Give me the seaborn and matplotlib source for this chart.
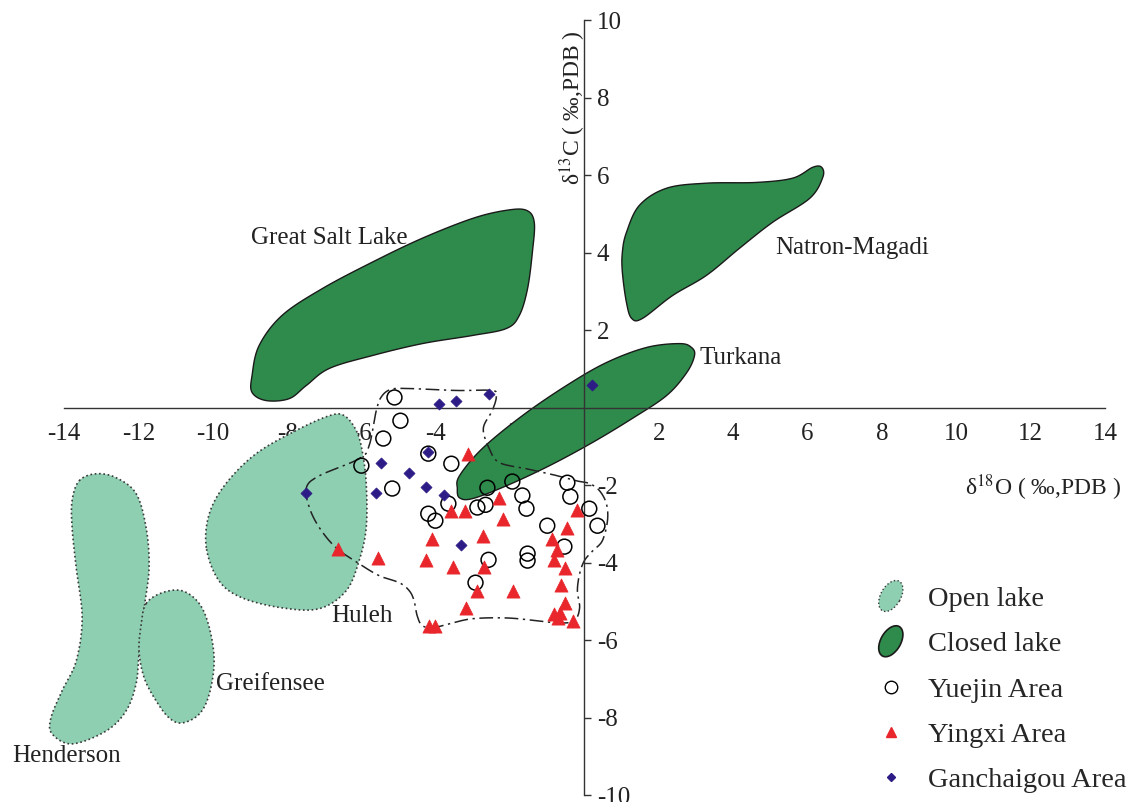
import numpy as np
import pandas as pd
import seaborn as sns
import matplotlib
matplotlib.use('Agg')
import matplotlib.pyplot as plt
from matplotlib.patches import Patch, Ellipse
from matplotlib.lines import Line2D
from matplotlib.legend_handler import HandlerPatch

# Sample values, d18O / d13C (permil, PDB).
yuejin_d18o = [-5.11, -4.95, -5.41, -6.00, -5.17, -4.20, -3.58, -3.66, -4.20, -4.01,
               -2.61, -2.88, -2.66, -1.94, -1.67, -1.56, -0.46, -0.38, 0.13, 0.35,
               -1.00, -0.54, -1.53, -1.53, -2.58, -2.93]
yuejin_d13c = [0.26, -0.34, -0.80, -1.50, -2.09, -1.19, -1.45, -2.48, -2.74, -2.92,
               -2.07, -2.58, -2.51, -1.91, -2.27, -2.61, -1.94, -2.30, -2.61, -3.05,
               -3.05, -3.59, -3.77, -3.95, -3.93, -4.52]

yingxi_d18o = [-3.12, -2.31, -3.58, -3.20, -2.18, -4.09, -2.72, -4.25, -3.53, -2.69,
               -2.88, -1.91, -3.18, -4.17, -4.01, -0.19, -0.48, -0.86, -0.75, -0.83,
               -0.51, -0.62, -0.51, -0.81, -0.67, -0.70, -0.32, -6.62, -5.55]
yingxi_d13c = [-1.19, -2.33, -2.66, -2.66, -2.87, -3.39, -3.31, -3.93, -4.11, -4.11,
               -4.73, -4.73, -5.17, -5.63, -5.63, -2.64, -3.10, -3.39, -3.67, -3.93,
               -4.13, -4.57, -5.04, -5.32, -5.30, -5.43, -5.50, -3.64, -3.88]

ganchaigou_d18o = [-3.90, -3.45, -2.58, 0.19, -4.20, -5.46, -4.71, -4.25, -3.77, -5.60,
                   -7.48, -3.31]
ganchaigou_d13c = [0.10, 0.18, 0.36, 0.57, -1.14, -1.42, -1.68, -2.04, -2.27, -2.20,
                   -2.20, -3.54]

# Lake fields (outline vertices).
great_salt_lake_x = [-8.94, -8.75, -8.13, -7.05, -5.71, -4.36, -3.01, -2.10, -1.56, -1.35,
                     -1.40, -1.53, -1.75, -2.10, -3.01, -4.36, -5.71, -6.86, -7.48, -7.94,
                     -8.56, -8.94]
great_salt_lake_y = [0.83, 1.60, 2.38, 3.07, 3.75, 4.37, 4.88, 5.09, 5.09, 4.78,
                     4.01, 3.07, 2.38, 2.04, 1.86, 1.65, 1.34, 1.01, 0.57, 0.23,
                     0.18, 0.39]
natron_x = [1.13, 1.48, 2.21, 3.28, 4.63, 5.60, 6.14, 6.38, 6.41, 6.06,
            5.06, 4.17, 3.28, 2.37, 1.56, 1.27, 1.13, 1.02, 1.02]
natron_y = [4.52, 5.22, 5.66, 5.79, 5.81, 5.92, 6.20, 6.20, 5.94, 5.40,
            4.78, 4.11, 3.41, 2.89, 2.30, 2.30, 2.71, 3.49, 4.01]
turkana_x = [-3.42, -3.36, -2.75, -1.67, -0.48, 0.59, 1.67, 2.56, 2.88, 2.96,
             2.75, 2.21, 1.29, 0.22, -0.94, -2.10, -3.01, -3.36]
turkana_y = [-2.09, -1.76, -1.06, -0.21, 0.57, 1.16, 1.55, 1.65, 1.55, 1.34,
             0.90, 0.31, -0.28, -0.90, -1.50, -2.02, -2.35, -2.33]
huleh_x = [-10.17, -10.09, -9.64, -8.83, -7.75, -6.86, -6.46, -6.14, -5.98, -5.87,
           -5.87, -6.06, -6.41, -7.13, -8.13, -9.21, -9.83]
huleh_y = [-3.62, -2.74, -1.96, -1.19, -0.59, -0.21, -0.21, -0.59, -1.11, -1.96,
           -3.10, -3.95, -4.73, -5.19, -5.17, -4.91, -4.47]
henderson_x = [-13.59, -13.14, -12.60, -12.06, -11.79, -11.71, -11.84, -11.98, -12.06, -12.33,
               -12.87, -13.78, -14.32, -14.35, -14.05, -13.67, -13.51, -13.67, -13.78, -13.78]
henderson_y = [-1.89, -1.71, -1.81, -2.22, -3.10, -4.13, -5.17, -6.36, -7.13, -7.83,
               -8.35, -8.68, -8.42, -8.01, -7.31, -6.54, -5.43, -4.13, -3.10, -2.40]
greifensee_x = [-11.79, -11.36, -10.82, -10.36, -10.09, -9.96, -10.09, -10.36, -10.82, -11.17,
                -11.52, -11.84, -11.98, -11.92]
greifensee_y = [-5.06, -4.78, -4.73, -5.06, -5.68, -6.54, -7.39, -7.91, -8.14, -8.01,
                -7.57, -6.98, -6.28, -5.58]

# Envelope round the study-area samples.
field_x = [-7.48, -7.13, -6.06, -5.79, -5.60, -5.46, -5.20, -4.71, -3.45, -2.48,
           -2.37, -2.48, -2.72, -2.56, -2.29, -1.56, -0.94, -0.22, 0.13, 0.40,
           0.59, 0.62, 0.48, 0.22, 0.00, -0.13, -0.19, -0.13, -0.27, -0.67,
           -1.29, -2.10, -3.01, -3.63, -4.04, -4.36, -4.50, -4.58, -4.71, -4.98,
           -5.52, -6.06, -6.68, -7.13, -7.40]
field_y = [-2.07, -1.76, -1.32, -0.98, -0.08, 0.28, 0.47, 0.49, 0.44, 0.44,
           0.28, -0.08, -0.54, -1.06, -1.42, -1.58, -1.71, -1.89, -1.96, -2.14,
           -2.48, -2.92, -3.44, -3.70, -3.95, -4.29, -4.73, -5.17, -5.50, -5.56,
           -5.50, -5.43, -5.45, -5.58, -5.68, -5.63, -5.37, -4.99, -4.73, -4.52,
           -4.34, -4.03, -3.62, -3.10, -2.58]

OPEN_COLOR = '#8ecfb2'
CLOSED_COLOR = '#2e8b4b'
RED = '#e8262b'
NAVY = '#2d1b86'


def smooth_closed(xs, ys, n=24):
    pts = np.column_stack([xs, ys])
    ext = np.vstack([pts[-1], pts, pts[0], pts[1]])
    t = np.linspace(0, 1, n, endpoint=False)[:, None]
    segs = []
    for i in range(1, len(pts) + 1):
        p0, p1, p2, p3 = ext[i - 1], ext[i], ext[i + 1], ext[i + 2]
        segs.append(0.5 * (2 * p1 + (-p0 + p2) * t + (2 * p0 - 5 * p1 + 4 * p2 - p3) * t ** 2
                           + (-p0 + 3 * p1 - 3 * p2 + p3) * t ** 3))
    out = np.vstack(segs)
    return np.vstack([out, out[:1]])


class HandlerEllipse(HandlerPatch):
    def create_artists(self, legend, orig_handle, xdescent, ydescent, width, height,
                       fontsize, trans):
        center = (0.5 * width - xdescent, 0.5 * height - ydescent)
        p = Ellipse(xy=center, width=height * 1.7, height=height * 1.0, angle=60)
        self.update_prop(p, orig_handle, legend)
        p.set_transform(trans)
        return [p]


samples = pd.concat([
    pd.DataFrame({'d18O': yuejin_d18o, 'd13C': yuejin_d13c, 'area': 'Yuejin Area'}),
    pd.DataFrame({'d18O': yingxi_d18o, 'd13C': yingxi_d13c, 'area': 'Yingxi Area'}),
    pd.DataFrame({'d18O': ganchaigou_d18o, 'd13C': ganchaigou_d13c, 'area': 'Ganchaigou Area'}),
], ignore_index=True)

sns.set_style("white")
plt.rcParams['font.family'] = ['Liberation Serif', 'DejaVu Serif']
plt.rcParams['mathtext.fontset'] = 'stix'
plt.rcParams['axes.unicode_minus'] = False

fig = plt.figure(figsize=(11.48, 8.02), dpi=100)
ax = fig.add_axes([0.0557, 0.0087, 0.9068, 0.9663])

# Lake fields.
for xs, ys in [(huleh_x, huleh_y), (henderson_x, henderson_y), (greifensee_x, greifensee_y)]:
    pts = smooth_closed(xs, ys)
    ax.fill(pts[:, 0], pts[:, 1], facecolor=OPEN_COLOR, edgecolor='#3a3a3a',
            linestyle=(0, (1, 1.6)), linewidth=1.2, zorder=1, clip_on=False)
for xs, ys in [(great_salt_lake_x, great_salt_lake_y), (natron_x, natron_y), (turkana_x, turkana_y)]:
    pts = smooth_closed(xs, ys)
    ax.fill(pts[:, 0], pts[:, 1], facecolor=CLOSED_COLOR, edgecolor='#1a1a1a',
            linewidth=1.0, zorder=1)

pts = smooth_closed(field_x, field_y, n=10)
ax.plot(pts[:, 0], pts[:, 1], color='#222222', linestyle=(0, (9, 3, 1.5, 3)),
        linewidth=1.1, zorder=2)

# Samples.
sns.scatterplot(data=samples[samples.area == 'Yuejin Area'], x='d18O', y='d13C',
                marker='o', s=115, color='black', facecolor='none', edgecolor='black',
                linewidth=1.1, ax=ax, zorder=4, legend=False)
sns.scatterplot(data=samples[samples.area == 'Yingxi Area'], x='d18O', y='d13C',
                marker='^', s=90, color=RED, edgecolor=RED, linewidth=0.5,
                ax=ax, zorder=4, legend=False)
sns.scatterplot(data=samples[samples.area == 'Ganchaigou Area'], x='d18O', y='d13C',
                marker='D', s=32, color=NAVY, edgecolor=NAVY, linewidth=0.5,
                ax=ax, zorder=4, legend=False)

# Field names.
label_kw = dict(fontsize=18, va='center', ha='left', color='#222222')
ax.text(-8.96, 4.37, 'Great Salt Lake', **label_kw)
ax.text(5.12, 4.11, 'Natron-Magadi', **label_kw)
ax.text(3.10, 1.27, 'Turkana', **label_kw)
ax.text(-6.81, -5.37, 'Huleh', **label_kw)
ax.text(-9.91, -7.13, 'Greifensee', **label_kw)
ax.text(-15.4, -8.99, 'Henderson', **label_kw)

# Axes crossing at the origin.
ax.set_xlim(-14, 14)
ax.set_ylim(-10, 10)
ax.spines['left'].set_visible(False)
ax.spines['top'].set_visible(False)
ax.spines['right'].set_position(('data', 0))
ax.spines['bottom'].set_position(('data', 0))
for s in ['right', 'bottom']:
    ax.spines[s].set_color('#333333')
    ax.spines[s].set_linewidth(1.0)
    ax.spines[s].set_zorder(3)
ax.yaxis.tick_right()
ax.set_xticks([t for t in range(-14, 15, 2) if t != 0])
ax.set_yticks([t for t in range(-10, 11, 2) if t != 0])
ax.tick_params(axis='both', direction='out', length=5, width=1.0, color='#333333',
               labelsize=18, labelcolor='#222222')
ax.tick_params(axis='x', pad=6)
ax.tick_params(axis='y', pad=4)
ax.set_xlabel('')
ax.set_ylabel('')
ax.text(12.33, -2.07, 'δ$^{18}$O ( ‰,PDB )', fontsize=17, ha='center', va='center',
        color='#222222')
ax.text(-0.32, 7.75, 'δ$^{13}$C ( ‰,PDB )', fontsize=17, ha='center', va='center',
        rotation=90, color='#222222')

# Legend.
handles = [
    Patch(facecolor=OPEN_COLOR, edgecolor='#3a3a3a', linestyle=':', linewidth=1.0),
    Patch(facecolor=CLOSED_COLOR, edgecolor='#1a1a1a', linewidth=1.2),
    Line2D([], [], marker='o', linestyle='', markersize=9, markerfacecolor='none',
           markeredgecolor='black', markeredgewidth=1.0),
    Line2D([], [], marker='^', linestyle='', markersize=7.5, color=RED),
    Line2D([], [], marker='D', linestyle='', markersize=4.3, color=NAVY),
]
labels = ['Open lake', 'Closed lake', 'Yuejin Area', 'Yingxi Area', 'Ganchaigou Area']
fig.legend(handles, labels, loc='upper left', bbox_to_anchor=(878 / 1148, 1 - 586 / 802),
           frameon=False, fontsize=20.5, labelspacing=0.68, handlelength=0.9,
           handletextpad=0.85, borderpad=0, borderaxespad=0,
           handler_map={Patch: HandlerEllipse()})

fig.savefig('out.png', dpi=100)
plt.close()
